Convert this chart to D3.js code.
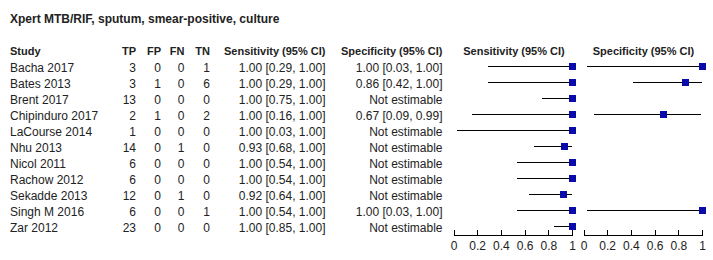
<!DOCTYPE html>
<html><head><meta charset="utf-8">
<script src="https://cdn.jsdelivr.net/npm/d3@7"></script>
<style>
html,body{margin:0;padding:0;background:#fff;}
svg{display:block;font-family:"Liberation Sans",Arial,sans-serif;}
</style></head>
<body>
<svg id="chart" width="713" height="260"></svg>
<script>
const title = "Xpert MTB/RIF, sputum, smear-positive, culture";
const studies = ["Bacha 2017","Bates 2013","Brent 2017","Chipinduro 2017","LaCourse 2014","Nhu 2013","Nicol 2011","Rachow 2012","Sekadde 2013","Singh M 2016","Zar 2012"];
const tp = [3,3,13,2,1,14,6,6,12,6,23];
const fp = [0,1,0,1,0,0,0,0,0,0,0];
const fn = [0,0,0,0,0,1,0,0,1,0,0];
const tn = [1,6,0,2,0,0,0,0,0,1,0];
const sens   = [1.00,1.00,1.00,1.00,1.00,0.93,1.00,1.00,0.92,1.00,1.00];
const sensLo = [0.29,0.29,0.75,0.16,0.03,0.68,0.54,0.54,0.64,0.54,0.85];
const sensHi = [1.00,1.00,1.00,1.00,1.00,1.00,1.00,1.00,1.00,1.00,1.00];
const spec   = [1.00,0.86,null,0.67,null,null,null,null,null,1.00,null];
const specLo = [0.03,0.42,null,0.09,null,null,null,null,null,0.03,null];
const specHi = [1.00,1.00,null,0.99,null,null,null,null,null,1.00,null];
const headers = ["Study","TP","FP","FN","TN","Sensitivity (95% CI)","Specificity (95% CI)","Sensitivity (95% CI)","Specificity (95% CI)"];
const tickValues = [0,0.2,0.4,0.6,0.8,1];

const svg = d3.select("#chart");
const f2 = d3.format(".2f");
const ciText = (v,lo,hi) => v==null ? "Not estimable" : `${f2(v)} [${f2(lo)}, ${f2(hi)}]`;

const y = d3.scaleBand().domain(studies).range([58,234]).paddingInner(0).paddingOuter(0);
const rowY = s => y(s) + y.bandwidth()/2;
const xSens = d3.scaleLinear().domain([0,1]).range([453.5,572]);
const xSpec = d3.scaleLinear().domain([0,1]).range([583.5,702]);

svg.append("text").attr("x",10).attr("y",23).attr("font-size",12).attr("font-weight","bold")
  .attr("fill","#222").text(title);

// headers
const hdr = [
  {t:headers[0],x:10,a:"start"},
  {t:headers[1],x:136,a:"end"},
  {t:headers[2],x:161,a:"end"},
  {t:headers[3],x:184.5,a:"end"},
  {t:headers[4],x:210,a:"end"},
  {t:headers[5],x:325.5,a:"end"},
  {t:headers[6],x:442.5,a:"end"},
  {t:headers[7],x:514,a:"middle"},
  {t:headers[8],x:643.5,a:"middle"}
];
svg.append("g").selectAll("text").data(hdr).join("text")
  .attr("x",d=>d.x).attr("y",55).attr("text-anchor",d=>d.a)
  .attr("font-size",11).attr("font-weight","bold").attr("fill","#222").text(d=>d.t);

const cols = [
  {v:studies,x:10,a:"start"},
  {v:tp,x:136,a:"end"},
  {v:fp,x:161,a:"end"},
  {v:fn,x:184.5,a:"end"},
  {v:tn,x:210,a:"end"},
  {v:studies.map((s,i)=>ciText(sens[i],sensLo[i],sensHi[i])),x:325.5,a:"end"},
  {v:studies.map((s,i)=>ciText(spec[i],specLo[i],specHi[i])),x:442.5,a:"end"}
];
cols.forEach(c=>{
  svg.append("g").selectAll("text").data(studies).join("text")
    .attr("x",c.x).attr("y",(s)=>rowY(s)+6).attr("text-anchor",c.a)
    .attr("font-size",12).attr("fill","#222").text((s,i)=>c.v[i]);
});

function forest(xs, v, lo, hi){
  const g = svg.append("g");
  const idx = studies.map((s,i)=>i).filter(i=>v[i]!=null);
  g.selectAll("line").data(idx).join("line")
    .attr("x1",i=>Math.round(xs(lo[i]))).attr("x2",i=>Math.round(xs(hi[i])))
    .attr("y1",i=>rowY(studies[i])+0.5).attr("y2",i=>rowY(studies[i])+0.5)
    .attr("stroke","#000").attr("stroke-width",1).attr("shape-rendering","crispEdges");
  g.selectAll("rect").data(idx).join("rect")
    .attr("x",i=>Math.round(xs(v[i]))-3).attr("y",i=>rowY(studies[i])-3)
    .attr("width",7).attr("height",7).attr("fill","#0a0aaa").attr("shape-rendering","crispEdges");
  const ax = svg.append("g").attr("transform","translate(0,234.5)")
    .call(d3.axisBottom(xs).tickValues(tickValues).tickFormat(d3.format("")).tickSizeInner(-5).tickSizeOuter(0).tickPadding(7));
  ax.select(".domain").attr("stroke","#000").attr("shape-rendering","crispEdges");
  ax.selectAll(".tick line").attr("stroke","#000").attr("shape-rendering","crispEdges");
  ax.selectAll("text").attr("font-size",12).attr("font-family","Liberation Sans, Arial, sans-serif").attr("fill","#222");
}
forest(xSens, sens, sensLo, sensHi);
forest(xSpec, spec, specLo, specHi);
</script>
</body></html>
